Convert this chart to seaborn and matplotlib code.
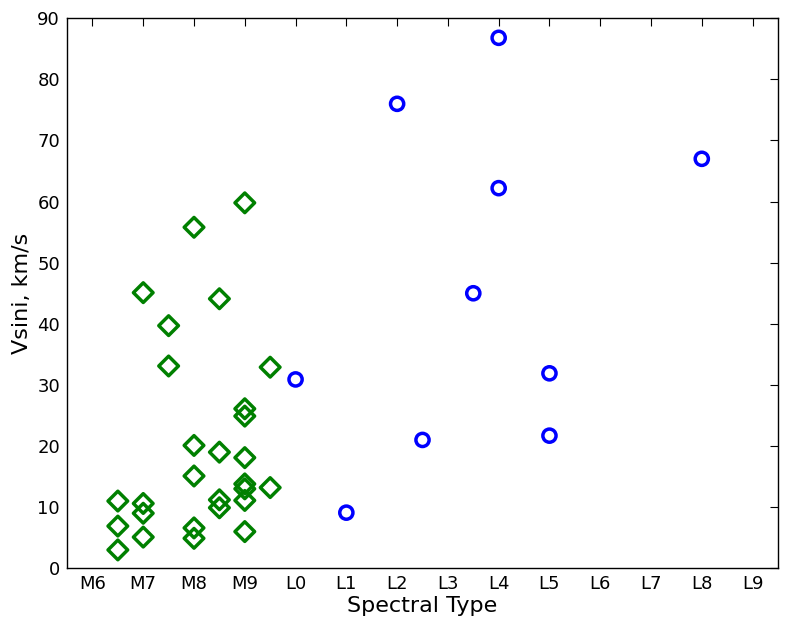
import pandas as pd
import matplotlib
matplotlib.use("Agg")
import matplotlib.pyplot as plt
import seaborn as sns

# Spectral type as a number: M6=6 ... M9=9, L0=10 ... L9=19
m_types = [6.5, 6.5, 6.5,
           7, 7, 7, 7,
           7.5, 7.5,
           8, 8, 8, 8, 8,
           8.5, 8.5, 8.5, 8.5,
           9, 9, 9, 9, 9, 9, 9, 9,
           9.5, 9.5]
m_vsini = [11.0, 6.9, 3.0,
           45.1, 10.6, 9.0, 5.1,
           39.7, 33.1,
           55.8, 20.1, 15.1, 6.6, 4.9,
           44.1, 19.0, 11.2, 9.9,
           59.8, 26.1, 24.9, 18.1, 13.8, 13.0, 11.1, 6.0,
           32.9, 13.2]

l_types = [10, 11, 12, 12.5, 13.5, 14, 14, 15, 15, 18]
l_vsini = [30.9, 9.1, 76.0, 21.0, 45.0, 86.8, 62.2, 31.9, 21.7, 67.0]

tick_labels = ['M6', 'M7', 'M8', 'M9', 'L0', 'L1', 'L2', 'L3', 'L4',
               'L5', 'L6', 'L7', 'L8', 'L9']

df_m = pd.DataFrame({'spt': m_types, 'vsini': m_vsini})
df_l = pd.DataFrame({'spt': l_types, 'vsini': l_vsini})

sns.set_style("white")
plt.rcParams['font.family'] = ['DejaVu Sans']
plt.rcParams['text.color'] = 'black'
plt.rcParams['axes.labelcolor'] = 'black'

fig, ax = plt.subplots(figsize=(7.89, 6.30), dpi=100)
fig.subplots_adjust(left=0.085, right=0.986, bottom=0.098, top=0.971)

sns.scatterplot(data=df_m, x='spt', y='vsini', ax=ax, marker='D', s=100,
                facecolor='none', edgecolor='#008000', linewidth=2.5)
sns.scatterplot(data=df_l, x='spt', y='vsini', ax=ax, marker='o', s=90,
                facecolor='none', edgecolor='#0000ff', linewidth=2.5)

ax.set_xlim(5.5, 19.5)
ax.set_ylim(0, 90)
ax.set_xticks(range(6, 20))
ax.set_xticklabels(tick_labels)
ax.set_yticks(range(0, 91, 10))
ax.tick_params(direction='in', length=6, width=0.8, top=True, right=True,
               labelsize=13, colors='black', labelcolor='black', pad=5)
for sp in ax.spines.values():
    sp.set_color('black')
    sp.set_linewidth(1.0)

ax.set_xlabel('Spectral Type', fontsize=16, labelpad=2, color='black')
ax.set_ylabel('Vsini, km/s', fontsize=16, labelpad=4, color='black')

fig.savefig('out.png', dpi=100)
